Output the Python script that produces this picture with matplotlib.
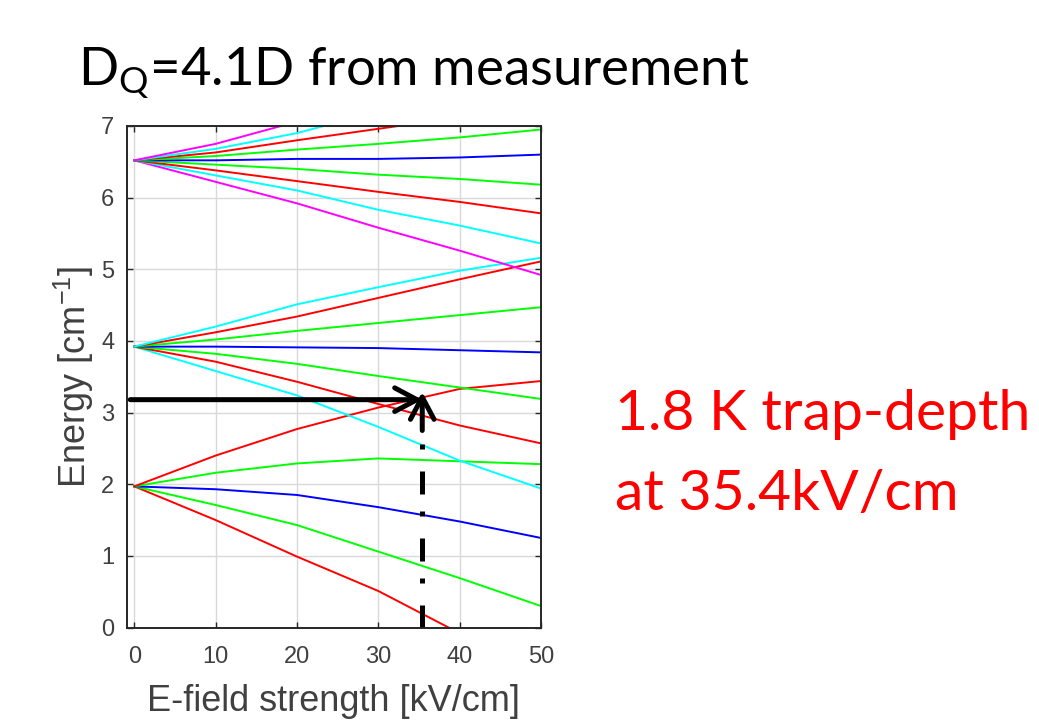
import matplotlib
matplotlib.use("Agg")
import matplotlib.pyplot as plt

# Electric field grid [kV/cm]
E_kv = [0, 10, 20, 30, 40, 50]

# Lowest manifold (~2 cm^-1)
j1_red_up = [1.97, 2.40, 2.77, 3.07, 3.33, 3.44]
j1_green_up = [1.97, 2.16, 2.29, 2.36, 2.32, 2.28]
j1_blue = [1.97, 1.93, 1.85, 1.68, 1.48, 1.25]
j1_green_down = [1.97, 1.71, 1.43, 1.06, 0.69, 0.30]
j1_red_down = [1.97, 1.50, 0.99, 0.51, -0.08, -0.70]

# Middle manifold (~3.9 cm^-1)
j2_cyan_up = [3.92, 4.20, 4.51, 4.75, 4.98, 5.16]
j2_red_up = [3.92, 4.12, 4.34, 4.60, 4.86, 5.11]
j2_green_up = [3.92, 4.02, 4.14, 4.25, 4.36, 4.47]
j2_blue = [3.92, 3.92, 3.91, 3.90, 3.87, 3.84]
j2_green_down = [3.92, 3.82, 3.68, 3.51, 3.35, 3.19]
j2_red_down = [3.92, 3.71, 3.43, 3.12, 2.82, 2.57]
j2_cyan_down = [3.92, 3.58, 3.24, 2.80, 2.33, 1.94]

# Upper manifold (~6.5 cm^-1)
j3_magenta_up = [6.52, 6.75, 7.06, 7.36, 7.66, 7.96]
j3_cyan_up = [6.52, 6.68, 6.90, 7.20, 7.50, 7.80]
j3_red_up = [6.52, 6.63, 6.80, 6.96, 7.12, 7.28]
j3_green_up = [6.52, 6.58, 6.67, 6.75, 6.84, 6.95]
j3_blue = [6.52, 6.52, 6.54, 6.54, 6.56, 6.60]
j3_green_down = [6.52, 6.46, 6.40, 6.32, 6.26, 6.18]
j3_red_down = [6.52, 6.38, 6.23, 6.08, 5.94, 5.78]
j3_cyan_down = [6.52, 6.31, 6.10, 5.83, 5.61, 5.36]
j3_magenta_down = [6.52, 6.22, 5.92, 5.58, 5.26, 4.92]

x_ticks = [0, 10, 20, 30, 40, 50]
y_ticks = [0, 1, 2, 3, 4, 5, 6, 7]

trap_field = 35.4      # kV/cm
trap_level = 3.18      # cm^-1, horizontal arrow
trap_tip = 3.29        # cm^-1, tip of vertical arrow

curves = [
    (j1_red_down, "#ff0000"), (j1_green_down, "#00ff00"), (j1_blue, "#0000ff"),
    (j1_green_up, "#00ff00"), (j1_red_up, "#ff0000"),
    (j2_cyan_down, "#00ffff"), (j2_red_down, "#ff0000"), (j2_green_down, "#00ff00"),
    (j2_blue, "#0000ff"), (j2_green_up, "#00ff00"), (j2_red_up, "#ff0000"),
    (j2_cyan_up, "#00ffff"),
    (j3_magenta_down, "#ff00ff"), (j3_cyan_down, "#00ffff"), (j3_red_down, "#ff0000"),
    (j3_green_down, "#00ff00"), (j3_blue, "#0000ff"), (j3_green_up, "#00ff00"),
    (j3_red_up, "#ff0000"), (j3_cyan_up, "#00ffff"), (j3_magenta_up, "#ff00ff"),
]

axis_col = "#262626"
label_col = "#404040"
tick_font = "Liberation Sans"
slide_font = "Lato"

fig = plt.figure(figsize=(10.39, 7.28), dpi=100)
ax = fig.add_axes([0.1222, 0.138, 0.3985, 0.689])

for vals, col in curves:
    ax.plot(E_kv, vals, color=col, lw=1.4)

ax.set_xlim(-0.9, 50)
ax.set_ylim(0, 7)
ax.set_xticks(x_ticks)
ax.set_yticks(y_ticks)
ax.grid(True, color="#d9d9d9", lw=1.0)
ax.set_axisbelow(True)
ax.tick_params(direction="in", length=4, width=1.0, top=True, right=True,
               colors=axis_col, labelcolor=label_col, labelsize=17)
ax.tick_params(axis="x", pad=13)
ax.tick_params(axis="y", pad=9)
for lab in ax.get_xticklabels() + ax.get_yticklabels():
    lab.set_fontfamily(tick_font)
for sp in ax.spines.values():
    sp.set_color(axis_col)
    sp.set_linewidth(1.4)

ax.set_xlabel("E-field strength [kV/cm]", fontsize=26, family=tick_font,
              color=label_col, labelpad=12)
ax.set_ylabel(r"Energy [cm$\mathregular{^{-1}}$]", fontsize=26, family=tick_font,
              color=label_col, labelpad=4)

# horizontal arrow marking the trap level
ax.annotate("", xy=(trap_field, trap_level), xytext=(-0.5, trap_level),
            arrowprops=dict(arrowstyle="->,head_length=1.6,head_width=0.85",
                            lw=3.6, color="black", shrinkA=0, shrinkB=0),
            annotation_clip=False)
# vertical dash-dot line at the trap field
ax.plot([trap_field, trap_field], [0, 2.56], color="black", lw=3.6,
        dashes=[4.6, 4.4, 1.0, 3.4])
ax.annotate("", xy=(trap_field, trap_tip), xytext=(trap_field, 2.75),
            arrowprops=dict(arrowstyle="->,head_length=1.6,head_width=0.85",
                            lw=3.6, color="black", shrinkA=0, shrinkB=0))

fig.text(0.075, 0.883, r"D$\mathregular{_Q}$=4.1D from measurement",
         fontsize=38, family=slide_font, color="black", va="baseline")
fig.text(0.592, 0.409, "1.8 K trap-depth", fontsize=41, family=slide_font,
         color="#ff0000", va="baseline")
fig.text(0.592, 0.299, "at 35.4kV/cm", fontsize=41, family=slide_font,
         color="#ff0000", va="baseline")

fig.savefig("out.png", dpi=100)
